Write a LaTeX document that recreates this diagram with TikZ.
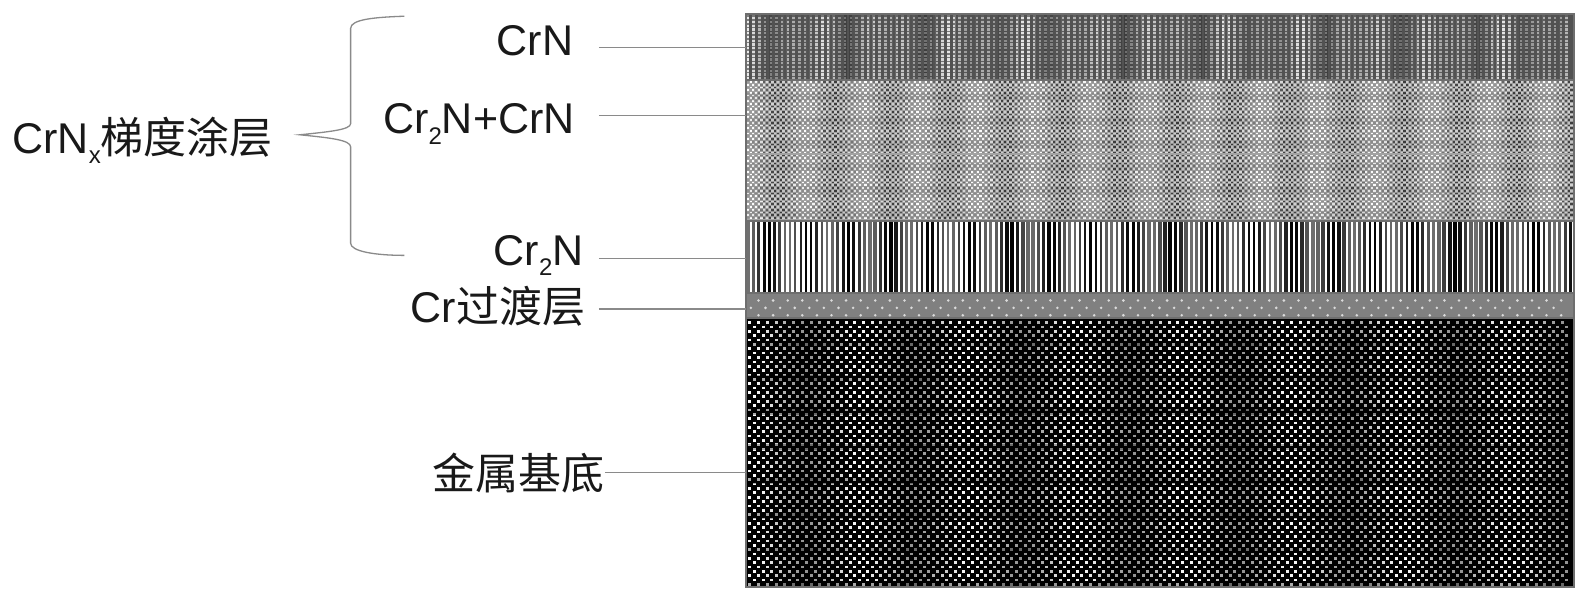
\documentclass[tikz,border=0pt]{standalone}
\usepackage{fontspec}
\setmainfont{Liberation Sans}
\newfontfamily\cjk{Noto Sans CJK SC}
\newcommand{\sbs}[1]{\raisebox{-0.24em}{\fontsize{24}{24}\selectfont #1}}
\definecolor{edge}{HTML}{6E6E6E}
\definecolor{leader}{HTML}{8A8A8A}
\tikzset{
  layerbox/.style={rectangle,inner sep=0pt,outer sep=0pt,anchor=north west,minimum width=828pt,draw=none},
  lbl/.style={anchor=base west,inner sep=0pt,text=black!90,font=\fontsize{43}{43}\selectfont},
  leaderline/.style={draw=leader,line width=1.4pt},
  bracestroke/.style={draw=leader,line width=1.3pt}
}
\begin{document}
\begin{tikzpicture}[x=1.0134pt,y=-1.0134pt]
\useasboundingbox (0,0) rectangle (1568,595);
\fill[white] (0,0) rectangle (1568,595);
% layers
\node[layerbox,minimum height=65.9pt,fill=black!68] (crn) at (736,14) {};
\node[layerbox,minimum height=140.9pt,fill=black!36] (mix) at (736,79) {};
\node[layerbox,minimum height=72pt,fill=white] (crtwo) at (736,218) {};
\node[layerbox,minimum height=25.3pt,fill=black!50] (cr) at (736,289) {};
\node[layerbox,minimum height=268.5pt,fill=black] (base) at (736,314) {};
% CrN texture
\foreach \i in {0,...,143}{
  \pgfmathsetmacro\xx{738+5.65*\i}
  \pgfmathtruncatemacro\v{68+24*cos(\i*41)*cos(\i*11)}
  \pgfmathtruncatemacro\w{\v*0.55}
  \draw[white!\w!black,line width=3pt] (\xx,15) -- (\xx,79);
  \draw[white!\v!black,line width=2.5pt,dash pattern=on 2.1pt off 1.65pt] (\xx,17) -- (\xx,78);
}
% Cr2N + CrN texture
\foreach \i in {0,...,150}{
  \pgfmathsetmacro\xx{738+5.4*\i}
  \pgfmathtruncatemacro\d{42+18*cos(\i*34.6)}
  \pgfmathtruncatemacro\l{90+10*cos(\i*34.6)}
  \draw[white!\d!black,line width=2.2pt,dash pattern=on 1.7pt off 3.74pt] (\xx,80) -- (\xx,217);
  \draw[white!\l!black,line width=2.2pt,dash pattern=on 1.7pt off 3.74pt] (\xx,82.7) -- (\xx,217);
  \draw[white!\d!black,line width=2.2pt,dash pattern=on 1.7pt off 3.74pt] (\xx+2.7,82.7) -- (\xx+2.7,217);
  \draw[white!\l!black,line width=2.2pt,dash pattern=on 1.7pt off 3.74pt] (\xx+2.7,80) -- (\xx+2.7,217);
}
\foreach \k in {0,...,5}{
  \fill[black,opacity=.07] (736,92+23*\k) rectangle (1553,100+23*\k);
}
% Cr2N stripes
\foreach \i in {0,...,156}{
  \pgfmathsetmacro\xx{737+5.2*\i}
  \pgfmathtruncatemacro\v{22+22*cos(\i*47)}
  \pgfmathsetmacro\wd{2.7+0.7*cos(\i*13+40)+0.5*(\i/160)}
  \fill[white!\v!black] (\xx,219) rectangle ++(\wd,70);
}
% Cr dots
\foreach \j/\off in {0/7.5,1/0,2/7.5}{
  \foreach \i in {0,...,55}{
    \fill[black!14] (741+14.4*\i+\off,296.5+7.3*\j) circle (1.4);
  }
}
% base texture
\foreach \i in {0,...,93}{
  \pgfmathsetmacro\xx{740+8.62*\i}
  \pgfmathtruncatemacro\v{78+20*cos(\i*29)}
  \draw[white!\v!black,line width=3pt,dash pattern=on 2.7pt off 6.03pt] (\xx,317) -- (\xx,578);
  \draw[white!\v!black,line width=3pt,dash pattern=on 2.7pt off 6.03pt] (\xx+4.31,321.3) -- (\xx+4.31,578);
}
\foreach \k in {0,...,7}{
  \fill[black,opacity=.3] (736,336+34*\k) rectangle (1553,342+34*\k);
}
% frame and separators
\draw[edge,line width=2pt] (crn.north west) rectangle (base.south east);
\draw[edge,line width=1.6pt] (crn.south west) -- (crn.south east);
\draw[edge,line width=1.6pt] (mix.south west) -- (mix.south east);
\draw[edge,line width=1.6pt] (crtwo.south west) -- (crtwo.south east);
\draw[edge,line width=1.6pt] (cr.south west) -- (cr.south east);
% labels
\node[lbl] (tcrn) at (490,55) {CrN};
\node[lbl] (tmix) at (378,132) {Cr\sbs{2}N+CrN};
\node[lbl] (tcrtwo) at (487,262) {Cr\sbs{2}N};
\node[lbl] (tcr) at (405,318) {Cr{\cjk 过渡层}};
\node[lbl] (tgrad) at (12,151) {CrN\sbs{x}{\cjk 梯度涂层}};
\node[lbl] (tbase) at (427,483) {\cjk 金属基底};
% leaders
\coordinate (a1) at (591,47);
\coordinate (a2) at (591,114);
\coordinate (a3) at (591,255);
\coordinate (a4) at (591,305);
\coordinate (a5) at (597,466);
\draw[leaderline] (a1) -- (a1 -| crn.west);
\draw[leaderline] (a2) -- (a2 -| mix.west);
\draw[leaderline] (a3) -- (a3 -| crtwo.west);
\draw[leaderline] (a4) -- (a4 -| cr.west);
\draw[leaderline] (a5) -- (a5 -| base.west);
% brace
\coordinate (bt) at (399,16);
\coordinate (bb) at (399,252);
\coordinate (bm) at (296,133);
\draw[bracestroke] (bt) .. controls (370,17) and (346,19) .. (346,28)
  -- (346,122) .. controls (346,128) and (325,130) .. (bm)
  .. controls (325,136) and (346,138) .. (346,145)
  -- (346,240) .. controls (346,248) and (370,252) .. (bb);
\end{tikzpicture}
\end{document}
